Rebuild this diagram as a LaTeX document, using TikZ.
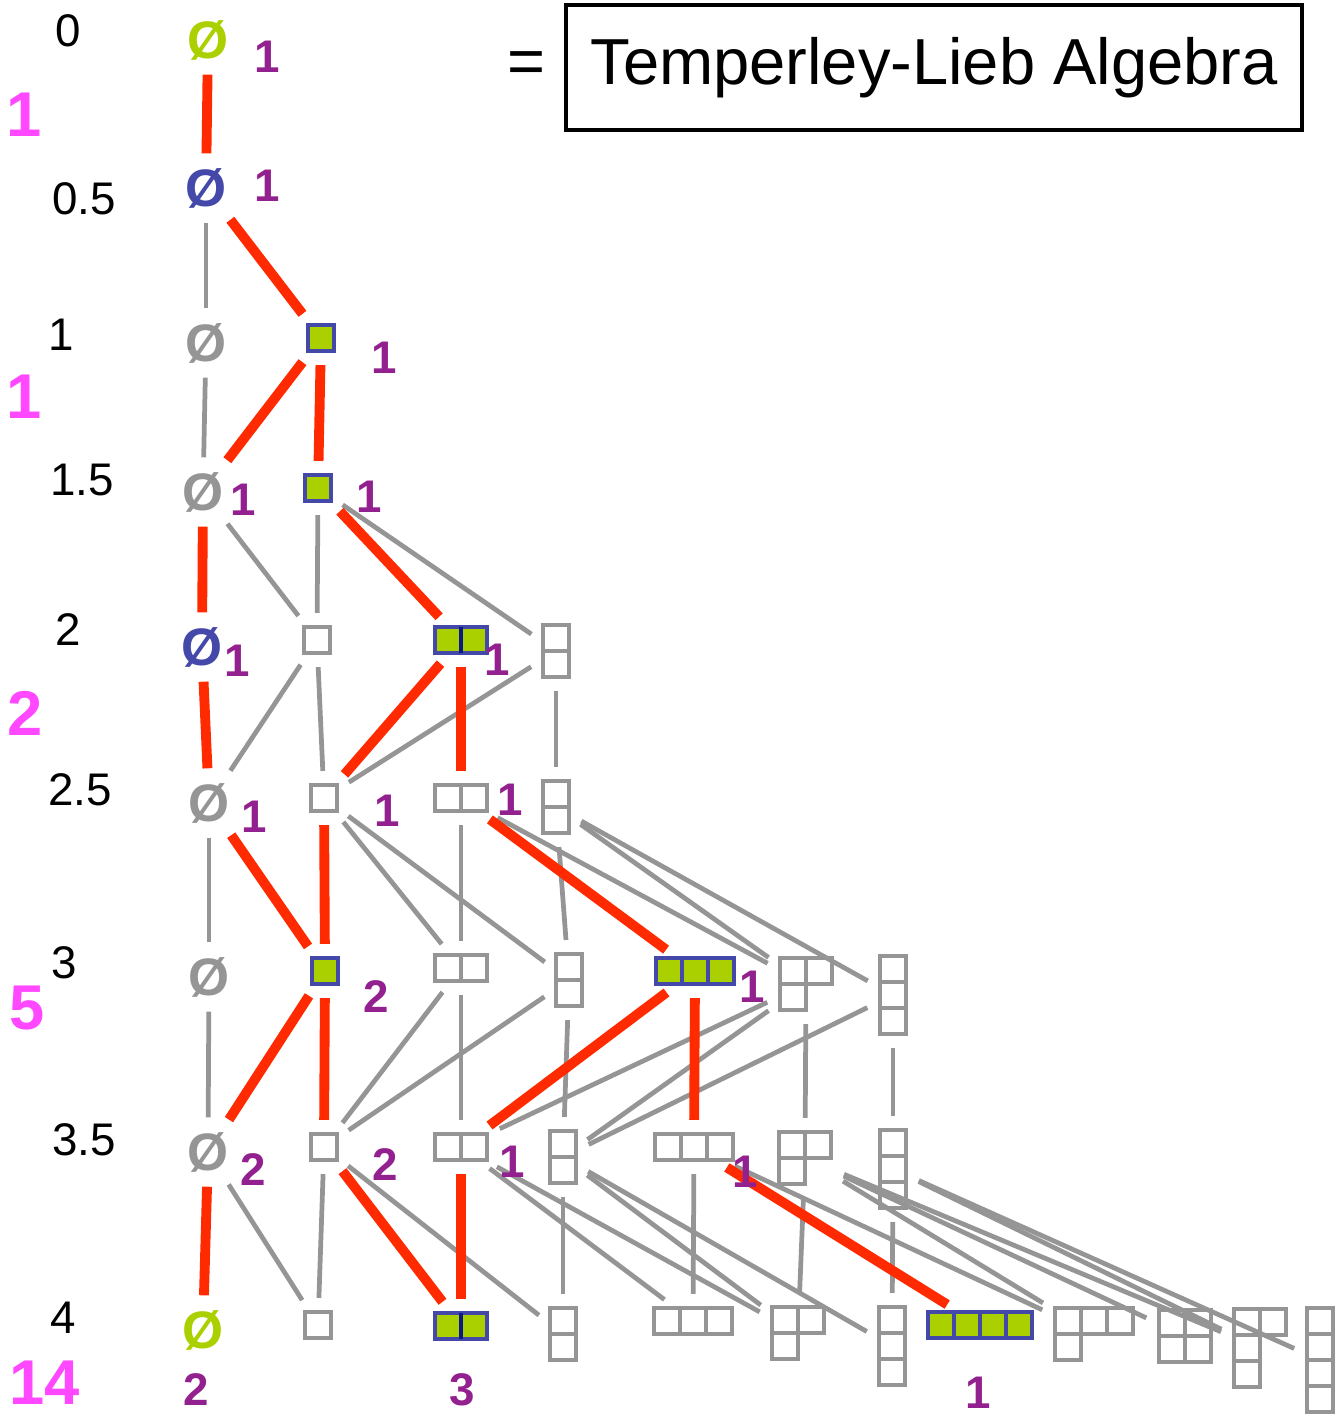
\documentclass[tikz,border=0pt]{standalone}
\usepackage{fontspec}
\setmainfont{Liberation Sans}
\usepackage{tikz}
\usetikzlibrary{positioning,calc}
\definecolor{tlred}{HTML}{FF2A00}
\definecolor{tlgray}{HTML}{959595}
\definecolor{tlgreen}{HTML}{AAD000}
\definecolor{tlblue}{HTML}{4448A8}
\definecolor{tlnavy}{HTML}{0A1A8A}
\definecolor{tlpurple}{HTML}{93208F}
\definecolor{tlpink}{HTML}{FF48FF}

\def\cellsz{0.26cm}
% young diagram: name, centre, columns, rows, row lengths, cell style
\newcommand{\ydiag}[6]{%
  \node[ydbox, minimum width=#3*\cellsz, minimum height=#4*\cellsz] (#1) at #2 {};
  \foreach \len [count=\rw] in {#5}
    \foreach \cl in {1,...,\len}
      \draw[#6] ($(#1.north west)+({(\cl-1)*\cellsz},{-(\rw-1)*\cellsz})$) rectangle +(\cellsz,-\cellsz);
}

\tikzset{
  ydbox/.style={inner sep=0pt, outer sep=0pt},
  gcell/.style={draw=tlgray, line width=1.35pt},
  ccell/.style={fill=tlgreen, draw=tlblue, line width=1.35pt},
  nul/.style={inner sep=0pt, font=\fontsize{15}{17}\selectfont\bfseries},
  lvl/.style={font=\fontsize{13}{15}\selectfont},
  mult/.style={text=tlpurple, font=\fontsize{13}{15}\selectfont\bfseries},
  dimn/.style={text=tlpink, font=\fontsize{18}{20}\selectfont\bfseries},
  gedge/.style={draw=tlgray, line width=1.35pt, shorten <=4pt, shorten >=4pt},
  redge/.style={draw=tlred, line width=2.8pt, shorten <=4pt, shorten >=4pt},
}

\begin{document}
\begin{tikzpicture}[x=0.01cm,y=-0.01cm]
  \useasboundingbox (0,0) rectangle (1342,1419);

  % title
  \node[draw, line width=1.2pt, minimum width=7.36cm, minimum height=1.25cm,
        font=\fontsize{18.5}{20}\selectfont] (title) at (934,67.5) {Temperley-Lieb Algebra};
  \node[inner sep=0pt, font=\fontsize{18.5}{20}\selectfont, left=0.17cm of title] (eq) {=};

  % levels
  \node[lvl] (l0) at (68,31) {0};
  \node[lvl] (l05) at (84,199) {0.5};
  \node[lvl] (l1) at (61,335) {1};
  \node[lvl] (l15) at (82,480) {1.5};
  \node[lvl] (l2) at (68,630) {2};
  \node[lvl] (l25) at (80,790) {2.5};
  \node[lvl] (l3) at (64,963) {3};
  \node[lvl] (l35) at (84,1140) {3.5};
  \node[lvl] (l4) at (63,1318) {4};

  \node[dimn] (d0) at (24,115) {1};
  \node[dimn] (d1) at (24,397) {1};
  \node[dimn] (d2) at (25,713) {2};
  \node[dimn] (d3) at (27,1008) {5};
  \node[dimn] (d4) at (45,1383) {14};

  % empty diagrams
  \node[nul, text=tlgreen] (A0) at (208,40) {Ø};
  \node[nul, text=tlblue] (B0) at (206,188) {Ø};
  \node[nul, text=tlgray] (C0) at (206,343) {Ø};
  \node[nul, text=tlgray] (D0) at (203,492) {Ø};
  \node[nul, text=tlblue] (E0) at (202,647) {Ø};
  \node[nul, text=tlgray] (F0) at (209,803) {Ø};
  \node[nul, text=tlgray] (G0) at (209,977) {Ø};
  \node[nul, text=tlgray] (H0) at (208,1152) {Ø};
  \node[nul, text=tlgreen] (I0) at (203,1330) {Ø};

  % level 1 and 1.5
  \ydiag{C1}{(321,338)}{1}{1}{1}{ccell}
  \ydiag{D1}{(318,488)}{1}{1}{1}{ccell}
  % level 2
  \ydiag{E1}{(317,640)}{1}{1}{1}{gcell}
  \ydiag{E2}{(461,640)}{2}{1}{2}{ccell}
  \ydiag{E11}{(556,651)}{1}{2}{1,1}{gcell}
  % level 2.5
  \ydiag{F1}{(324,798)}{1}{1}{1}{gcell}
  \ydiag{F2}{(461,798)}{2}{1}{2}{gcell}
  \ydiag{F11}{(556,807)}{1}{2}{1,1}{gcell}
  % level 3
  \ydiag{G1}{(325,971)}{1}{1}{1}{ccell}
  \ydiag{G2}{(461,968)}{2}{1}{2}{gcell}
  \ydiag{G11}{(569,980)}{1}{2}{1,1}{gcell}
  \ydiag{G3}{(695,971)}{3}{1}{3}{ccell}
  \ydiag{G21}{(806,984)}{2}{2}{2,1}{gcell}
  \ydiag{G111}{(893,995)}{1}{3}{1,1,1}{gcell}
  % level 3.5
  \ydiag{H1}{(324,1147)}{1}{1}{1}{gcell}
  \ydiag{H2}{(461,1147)}{2}{1}{2}{gcell}
  \ydiag{H11}{(563,1157)}{1}{2}{1,1}{gcell}
  \ydiag{H3}{(694,1147)}{3}{1}{3}{gcell}
  \ydiag{H21}{(805,1158)}{2}{2}{2,1}{gcell}
  \ydiag{H111}{(893,1169)}{1}{3}{1,1,1}{gcell}
  % level 4
  \ydiag{I1}{(318,1325)}{1}{1}{1}{gcell}
  \ydiag{I2}{(461,1326)}{2}{1}{2}{ccell}
  \ydiag{I11}{(563,1334)}{1}{2}{1,1}{gcell}
  \ydiag{I3}{(693,1321)}{3}{1}{3}{gcell}
  \ydiag{I21}{(798,1333)}{2}{2}{2,1}{gcell}
  \ydiag{I111}{(892,1346)}{1}{3}{1,1,1}{gcell}
  \ydiag{I4}{(980,1325)}{4}{1}{4}{ccell}
  \ydiag{I31}{(1094,1334)}{3}{2}{3,1}{gcell}
  \ydiag{I22}{(1185,1336)}{2}{2}{2,2}{gcell}
  \ydiag{I211}{(1260,1348)}{2}{3}{2,1,1}{gcell}
  \ydiag{I1111}{(1320,1360)}{1}{4}{1,1,1,1}{gcell}

  \draw[tlnavy, line width=1.4pt] (E2.north) -- (E2.south);
  \draw[tlnavy, line width=1.4pt] (I2.north) -- (I2.south);

  % gray edges
  \foreach \a/\b in {B0/C0, C0/D0, D0/E1, D1/E1, D1/E11, E1/F0, E1/F1, E11/F1,
      E11/F11, F0/G0, F1/G2, F1/G11, F2/G2, F2/G21, F11/G11, F11/G21, F11/G111,
      G0/H0, G2/H1, G2/H2, G11/H1, G11/H11, G21/H2, G21/H11, G21/H21, G111/H11,
      G111/H111, H0/I1, H1/I1, H1/I11, H2/I3, H2/I21, H11/I11, H11/I21, H11/I111,
      H3/I3, H3/I31, H21/I21, H21/I31, H21/I22, H21/I211, H111/I111, H111/I211,
      H111/I1111}
    \draw[gedge] (\a) -- (\b);

  % red edges
  \foreach \a/\b in {A0/B0, B0/C1, C1/D0, C1/D1, D0/E0, D1/E2, E0/F0, E2/F1,
      E2/F2, F0/G1, F1/G1, F2/G3, G1/H0, G1/H1, G3/H2, G3/H3, H0/I0, H1/I2,
      H2/I2, H3/I4}
    \draw[redge] (\a) -- (\b);

  % multiplicities
  \node[mult] (m0) at (267,57) {1};
  \node[mult] (m05) at (267,186) {1};
  \node[mult] (m1) at (384,358) {1};
  \node[mult] (m15a) at (243,500) {1};
  \node[mult] (m15b) at (369,497) {1};
  \node[mult] (m2a) at (237,661) {1};
  \node[mult] (m2b) at (497,660) {1};
  \node[mult] (m25a) at (254,817) {1};
  \node[mult] (m25b) at (387,811) {1};
  \node[mult] (m25c) at (510,800) {1};
  \node[mult] (m3a) at (376,997) {2};
  \node[mult] (m3b) at (752,987) {1};
  \node[mult] (m35a) at (253,1170) {2};
  \node[mult] (m35b) at (385,1165) {2};
  \node[mult] (m35c) at (512,1162) {1};
  \node[mult] (m35d) at (745,1172) {1};
  \node[mult] (m4a) at (196,1390) {2};
  \node[mult] (m4b) at (462,1390) {3};
  \node[mult] (m4c) at (978,1393) {1};
\end{tikzpicture}
\end{document}
